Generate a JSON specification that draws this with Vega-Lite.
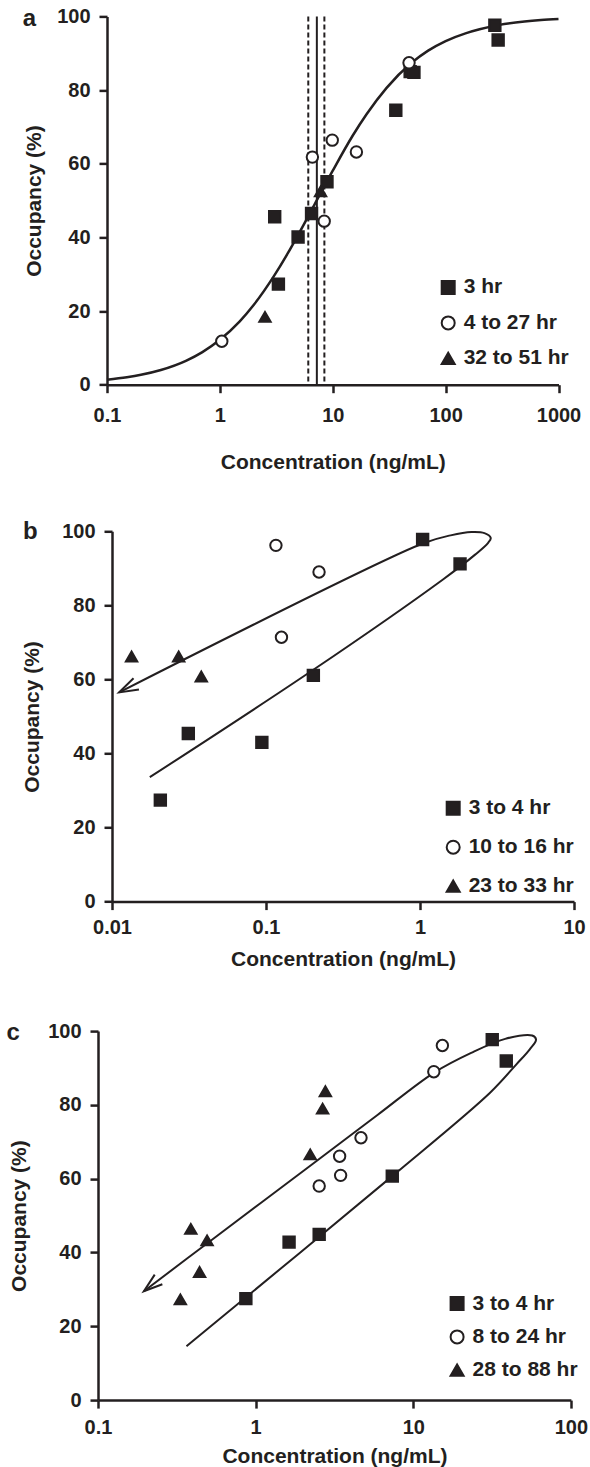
{
  "$schema": "https://vega.github.io/schema/vega-lite/v6.json",
  "background": "white",
  "padding": {"left": 0, "top": 6.4, "right": 0, "bottom": 0},
  "datasets": {
    "curveA": [
      {"conc": 0.1, "occ": 1.37}, {"conc": 0.15, "occ": 2.04}, {"conc": 0.2, "occ": 2.7}, {"conc": 0.3, "occ": 4.0},
      {"conc": 0.5, "occ": 6.49}, {"conc": 0.7, "occ": 8.86}, {"conc": 1, "occ": 12.2}, {"conc": 1.5, "occ": 17.2},
      {"conc": 2, "occ": 21.7}, {"conc": 3, "occ": 29.4}, {"conc": 4, "occ": 35.7}, {"conc": 5, "occ": 41.0},
      {"conc": 7, "occ": 49.3}, {"conc": 10, "occ": 58.1}, {"conc": 15, "occ": 67.6}, {"conc": 20, "occ": 73.5},
      {"conc": 30, "occ": 80.6}, {"conc": 50, "occ": 87.4}, {"conc": 70, "occ": 90.7}, {"conc": 100, "occ": 93.3},
      {"conc": 150, "occ": 95.4}, {"conc": 200, "occ": 96.5}, {"conc": 300, "occ": 97.7}, {"conc": 500, "occ": 98.6},
      {"conc": 700, "occ": 99.0}, {"conc": 1000, "occ": 99.3}
    ],
    "vlinesA": [
      {"conc": 6.07, "kind": "dashed"}, {"conc": 7.23, "kind": "solid"}, {"conc": 8.43, "kind": "dashed"}
    ],
    "ptsA": [
      {"series": "3 hr", "conc": 3.06, "occ": 45.6}, {"series": "3 hr", "conc": 4.93, "occ": 40.1},
      {"series": "3 hr", "conc": 3.3, "occ": 27.3}, {"series": "3 hr", "conc": 6.49, "occ": 46.5},
      {"series": "3 hr", "conc": 8.89, "occ": 55.1}, {"series": "3 hr", "conc": 36.2, "occ": 74.5},
      {"series": "3 hr", "conc": 48.5, "occ": 85.0}, {"series": "3 hr", "conc": 52.4, "occ": 84.8},
      {"series": "3 hr", "conc": 273, "occ": 97.6}, {"series": "3 hr", "conc": 292, "occ": 93.6},
      {"series": "4 to 27 hr", "conc": 1.04, "occ": 11.8}, {"series": "4 to 27 hr", "conc": 6.6, "occ": 61.8},
      {"series": "4 to 27 hr", "conc": 8.4, "occ": 44.4}, {"series": "4 to 27 hr", "conc": 9.9, "occ": 66.4},
      {"series": "4 to 27 hr", "conc": 16.2, "occ": 63.2}, {"series": "4 to 27 hr", "conc": 47.4, "occ": 87.4},
      {"series": "32 to 51 hr", "conc": 2.51, "occ": 18.4}, {"series": "32 to 51 hr", "conc": 7.8, "occ": 52.5}
    ],
    "loopB": [
      {"ord": 1, "conc": 0.0176, "occ": 33.6}, {"ord": 2, "conc": 0.203, "occ": 62.6},
      {"ord": 3, "conc": 1.41, "occ": 87.0}, {"ord": 4, "conc": 2.28, "occ": 93.7},
      {"ord": 5, "conc": 2.77, "occ": 96.9}, {"ord": 6, "conc": 2.88, "occ": 98.2},
      {"ord": 7, "conc": 2.62, "occ": 99.5}, {"ord": 8, "conc": 2.16, "occ": 99.8},
      {"ord": 9, "conc": 1.58, "occ": 98.9}, {"ord": 10, "conc": 1.04, "occ": 96.7},
      {"ord": 11, "conc": 0.01113, "occ": 56.5}
    ],
    "arrowB": [
      {"ord": 1, "conc": 0.0138, "occ": 60.3}, {"ord": 2, "conc": 0.01113, "occ": 56.5}, {"ord": 3, "conc": 0.01496, "occ": 57.3}
    ],
    "ptsB": [
      {"series": "3 to 4 hr", "conc": 0.0206, "occ": 27.4}, {"series": "3 to 4 hr", "conc": 0.0313, "occ": 45.4},
      {"series": "3 to 4 hr", "conc": 0.094, "occ": 43.0}, {"series": "3 to 4 hr", "conc": 0.203, "occ": 61.1},
      {"series": "3 to 4 hr", "conc": 1.04, "occ": 97.8}, {"series": "3 to 4 hr", "conc": 1.82, "occ": 91.2},
      {"series": "10 to 16 hr", "conc": 0.116, "occ": 96.2}, {"series": "10 to 16 hr", "conc": 0.126, "occ": 71.4},
      {"series": "10 to 16 hr", "conc": 0.221, "occ": 89.0},
      {"series": "23 to 33 hr", "conc": 0.0134, "occ": 66.2}, {"series": "23 to 33 hr", "conc": 0.0271, "occ": 66.2},
      {"series": "23 to 33 hr", "conc": 0.038, "occ": 60.8}
    ],
    "loopC": [
      {"ord": 1, "conc": 0.364, "occ": 14.6}, {"ord": 2, "conc": 7.36, "occ": 60.7},
      {"ord": 3, "conc": 30.7, "occ": 83.3}, {"ord": 4, "conc": 45.1, "occ": 91.0},
      {"ord": 5, "conc": 54.7, "occ": 95.0}, {"ord": 6, "conc": 60.1, "occ": 97.7},
      {"ord": 7, "conc": 56.8, "occ": 98.8}, {"ord": 8, "conc": 38.3, "occ": 97.9},
      {"ord": 9, "conc": 23.3, "occ": 94.1}, {"ord": 10, "conc": 13.5, "occ": 88.7},
      {"ord": 11, "conc": 5.9, "occ": 77.2}, {"ord": 12, "conc": 2.32, "occ": 64.1},
      {"ord": 13, "conc": 0.526, "occ": 43.4}, {"ord": 14, "conc": 0.1955, "occ": 29.5}
    ],
    "arrowC": [
      {"ord": 1, "conc": 0.229, "occ": 34.0}, {"ord": 2, "conc": 0.1955, "occ": 29.5}, {"ord": 3, "conc": 0.256, "occ": 31.4}
    ],
    "ptsC": [
      {"series": "3 to 4 hr", "conc": 0.867, "occ": 27.5}, {"series": "3 to 4 hr", "conc": 1.63, "occ": 42.8},
      {"series": "3 to 4 hr", "conc": 2.53, "occ": 44.9}, {"series": "3 to 4 hr", "conc": 7.36, "occ": 60.7},
      {"series": "3 to 4 hr", "conc": 31.7, "occ": 97.7}, {"series": "3 to 4 hr", "conc": 38.9, "occ": 91.9},
      {"series": "8 to 24 hr", "conc": 2.53, "occ": 58.0}, {"series": "8 to 24 hr", "conc": 3.46, "occ": 60.9},
      {"series": "8 to 24 hr", "conc": 3.41, "occ": 66.1}, {"series": "8 to 24 hr", "conc": 4.66, "occ": 71.1},
      {"series": "8 to 24 hr", "conc": 13.5, "occ": 89.0}, {"series": "8 to 24 hr", "conc": 15.3, "occ": 96.1},
      {"series": "28 to 88 hr", "conc": 0.333, "occ": 27.3}, {"series": "28 to 88 hr", "conc": 0.388, "occ": 46.4},
      {"series": "28 to 88 hr", "conc": 0.441, "occ": 34.7}, {"series": "28 to 88 hr", "conc": 0.492, "occ": 43.3},
      {"series": "28 to 88 hr", "conc": 2.22, "occ": 66.6}, {"series": "28 to 88 hr", "conc": 2.66, "occ": 79.0},
      {"series": "28 to 88 hr", "conc": 2.77, "occ": 83.7}
    ]
  },
  "config": {
    "font": "Liberation Sans",
    "view": {"stroke": null},
    "axis": {
      "domainColor": "#231f20", "domainWidth": 2.5, "tickColor": "#231f20", "tickWidth": 2.5, "tickSize": 8,
      "labelFont": "Liberation Sans", "labelFontSize": 20, "labelFontWeight": "bold", "labelColor": "#231f20",
      "titleFont": "Liberation Sans", "titleFontSize": 21, "titleFontWeight": "bold", "titleColor": "#231f20",
      "grid": false, "labelFlush": false, "labelOverlap": false, "labelPadding": 9
    },
    "legend": {
      "labelFont": "Liberation Sans", "labelFontSize": 21, "labelFontWeight": "bold", "labelColor": "#231f20",
      "symbolSize": 169, "symbolStrokeWidth": 2, "symbolStrokeColor": "#231f20", "labelOffset": 5,
      "padding": 0, "symbolOpacity": 1
    },
    "title": {
      "font": "Liberation Sans", "fontSize": 24, "fontWeight": "bold", "color": "#231f20",
      "anchor": "start", "frame": "bounds", "offset": 0
    }
  },
  "resolve": {"scale": {"shape": "independent", "fill": "independent"}, "legend": {"shape": "independent", "fill": "independent"}},
  "spacing": 49.7,
  "vconcat": [
    {
      "spacing": 45.9,
      "resolve": {"scale": {"shape": "independent", "fill": "independent"}, "legend": {"shape": "independent", "fill": "independent"}},
      "vconcat": [
        {
          "spacing": 0,
          "resolve": {"scale": {"shape": "independent", "fill": "independent"}, "legend": {"shape": "independent", "fill": "independent"}},
          "hconcat": [
            {"width": 22, "height": 1, "data": {"values": [{"k": 1}]}, "mark": {"type": "point", "opacity": 0}, "encoding": {}},
            {
              "width": 451.5,
              "height": 368.3,
              "title": {"text": "a", "dy": 28.8, "dx": -1},
              "encoding": {
                "x": {"field": "conc", "type": "quantitative",
                  "scale": {"type": "log", "domain": [0.1, 1000], "nice": false},
                  "axis": {"title": "Concentration (ng/mL)", "values": [0.1, 1, 10, 100, 1000], "format": "~g", "labelPadding": 13, "titlePadding": 26}}
              },
              "layer": [
                {
                  "data": {"name": "curveA"},
                  "mark": {"type": "line", "interpolate": "monotone", "strokeWidth": 2.5, "color": "#231f20"},
                  "encoding": {
                    "y": {"field": "occ", "type": "quantitative",
                      "scale": {"domain": [0, 100], "nice": false, "zero": false},
                      "axis": {"title": "Occupancy (%)", "values": [0, 20, 40, 60, 80, 100], "titlePadding": 12}}
                  }
                },
                {
                  "data": {"name": "vlinesA"},
                  "mark": {"type": "rule", "strokeWidth": 2, "color": "#231f20"},
                  "encoding": {
                    "strokeDash": {"field": "kind", "type": "nominal",
                      "scale": {"domain": ["solid", "dashed"], "range": [[1, 0], [5, 3]]}, "legend": null}
                  }
                },
                {
                  "data": {"name": "ptsA"},
                  "mark": {"type": "point", "stroke": "#231f20", "strokeWidth": 2, "opacity": 1, "size": 130},
                  "encoding": {
                    "y": {"field": "occ", "type": "quantitative"},
                    "shape": {"field": "series", "type": "nominal",
                      "scale": {"domain": ["3 hr", "4 to 27 hr", "32 to 51 hr"], "range": ["square", "circle", "triangle-up"]},
                      "legend": {"title": null, "orient": "none", "legendX": 330.7, "legendY": 260.6, "rowPadding": 13.4,
                        "encode": {"symbols": {"update": {"stroke": {"value": "#231f20"}, "strokeWidth": {"value": 2}}}}}},
                    "fill": {"field": "series", "type": "nominal",
                      "scale": {"domain": ["3 hr", "4 to 27 hr", "32 to 51 hr"], "range": ["#231f20", "white", "#231f20"]},
                      "legend": {"title": null, "orient": "none", "legendX": 330.7, "legendY": 260.6, "rowPadding": 13.4,
                        "encode": {"symbols": {"update": {"stroke": {"value": "#231f20"}, "strokeWidth": {"value": 2}}}}}}
                  }
                }
              ]
            }
          ]
        },
        {
          "spacing": 0,
          "resolve": {"scale": {"shape": "independent", "fill": "independent"}, "legend": {"shape": "independent", "fill": "independent"}},
          "hconcat": [
            {"width": 20.1, "height": 1, "data": {"values": [{"k": 1}]}, "mark": {"type": "point", "opacity": 0}, "encoding": {}},
            {
              "width": 462,
              "height": 370.3,
              "title": {"text": "b", "dy": 26.8, "dx": 1},
              "encoding": {
                "x": {"field": "conc", "type": "quantitative",
                  "scale": {"type": "log", "domain": [0.01, 10], "nice": false},
                  "axis": {"title": "Concentration (ng/mL)", "values": [0.01, 0.1, 1, 10], "format": "~g", "labelPadding": 8.4, "titlePadding": 10.6}},
                "y": {"field": "occ", "type": "quantitative",
                  "scale": {"domain": [0, 100], "nice": false, "zero": false},
                  "axis": {"title": "Occupancy (%)", "values": [0, 20, 40, 60, 80, 100], "titlePadding": 18.7}}
              },
              "layer": [
                {
                  "data": {"name": "loopB"},
                  "mark": {"type": "line", "interpolate": "catmull-rom", "strokeWidth": 2, "color": "#231f20"},
                  "encoding": {"order": {"field": "ord", "type": "quantitative"}}
                },
                {
                  "data": {"name": "arrowB"},
                  "mark": {"type": "line", "strokeWidth": 2, "color": "#231f20"},
                  "encoding": {"order": {"field": "ord", "type": "quantitative"}}
                },
                {
                  "data": {"name": "ptsB"},
                  "mark": {"type": "point", "stroke": "#231f20", "strokeWidth": 2, "opacity": 1, "size": 130},
                  "encoding": {
                    "shape": {"field": "series", "type": "nominal",
                      "scale": {"domain": ["3 to 4 hr", "10 to 16 hr", "23 to 33 hr"], "range": ["square", "circle", "triangle-up"]},
                      "legend": {"title": null, "orient": "none", "legendX": 330.7, "legendY": 266.5, "rowPadding": 16.9,
                        "encode": {"symbols": {"update": {"stroke": {"value": "#231f20"}, "strokeWidth": {"value": 2}}}}}},
                    "fill": {"field": "series", "type": "nominal",
                      "scale": {"domain": ["3 to 4 hr", "10 to 16 hr", "23 to 33 hr"], "range": ["#231f20", "white", "#231f20"]},
                      "legend": {"title": null, "orient": "none", "legendX": 330.7, "legendY": 266.5, "rowPadding": 16.9,
                        "encode": {"symbols": {"update": {"stroke": {"value": "#231f20"}, "strokeWidth": {"value": 2}}}}}}
                  }
                }
              ]
            }
          ]
        }
      ]
    },
    {
      "spacing": 0,
      "resolve": {"scale": {"shape": "independent", "fill": "independent"}, "legend": {"shape": "independent", "fill": "independent"}},
      "hconcat": [
        {"width": 6, "height": 1, "data": {"values": [{"k": 1}]}, "mark": {"type": "point", "opacity": 0}, "encoding": {}},
        {
          "width": 472.9,
          "height": 369,
          "title": {"text": "c", "dy": 27.8, "dx": -2},
          "encoding": {
            "x": {"field": "conc", "type": "quantitative",
              "scale": {"type": "log", "domain": [0.1, 100], "nice": false},
              "axis": {"title": "Concentration (ng/mL)", "values": [0.1, 1, 10, 100], "format": "~g", "labelPadding": 9.5, "titlePadding": 8}},
            "y": {"field": "occ", "type": "quantitative",
              "scale": {"domain": [0, 100], "nice": false, "zero": false},
              "axis": {"title": "Occupancy (%)", "values": [0, 20, 40, 60, 80, 100], "titlePadding": 18.2}}
          },
          "layer": [
            {
              "data": {"name": "loopC"},
              "mark": {"type": "line", "interpolate": "catmull-rom", "strokeWidth": 2, "color": "#231f20"},
              "encoding": {"order": {"field": "ord", "type": "quantitative"}}
            },
            {
              "data": {"name": "arrowC"},
              "mark": {"type": "line", "strokeWidth": 2, "color": "#231f20"},
              "encoding": {"order": {"field": "ord", "type": "quantitative"}}
            },
            {
              "data": {"name": "ptsC"},
              "mark": {"type": "point", "stroke": "#231f20", "strokeWidth": 2, "opacity": 1, "size": 130},
              "encoding": {
                "shape": {"field": "series", "type": "nominal",
                  "scale": {"domain": ["3 to 4 hr", "8 to 24 hr", "28 to 88 hr"], "range": ["square", "circle", "triangle-up"]},
                  "legend": {"title": null, "orient": "none", "legendX": 348.6, "legendY": 262, "rowPadding": 11.3,
                    "encode": {"symbols": {"update": {"stroke": {"value": "#231f20"}, "strokeWidth": {"value": 2}}}}}},
                "fill": {"field": "series", "type": "nominal",
                  "scale": {"domain": ["3 to 4 hr", "8 to 24 hr", "28 to 88 hr"], "range": ["#231f20", "white", "#231f20"]},
                  "legend": {"title": null, "orient": "none", "legendX": 348.6, "legendY": 262, "rowPadding": 11.3,
                    "encode": {"symbols": {"update": {"stroke": {"value": "#231f20"}, "strokeWidth": {"value": 2}}}}}}
              }
            }
          ]
        }
      ]
    }
  ]
}
